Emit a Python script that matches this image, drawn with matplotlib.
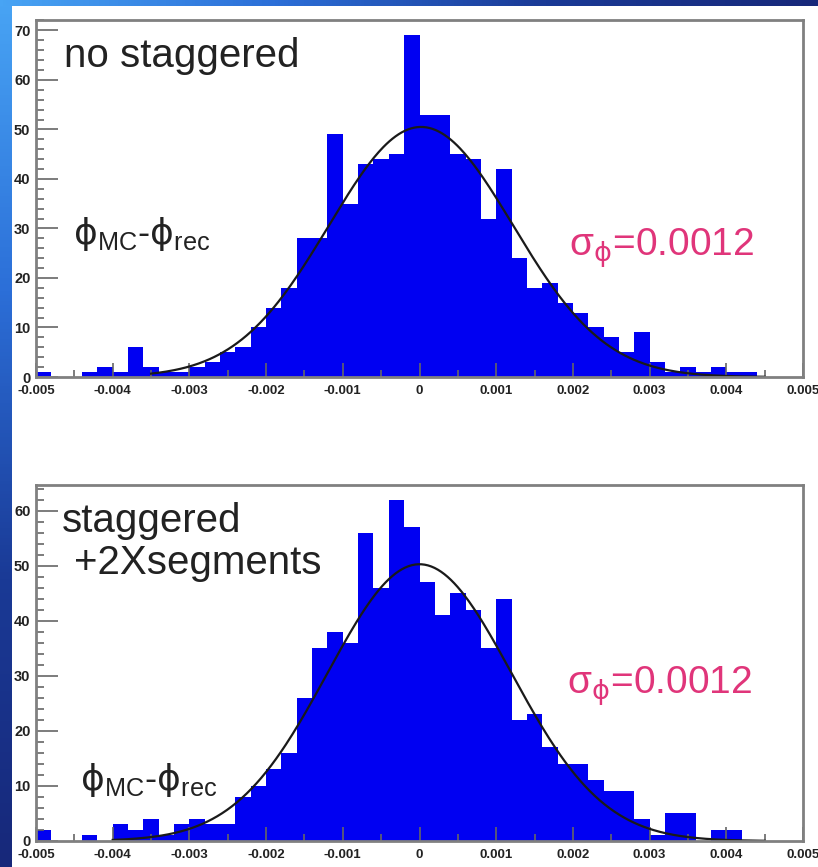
import numpy as np
import matplotlib.pyplot as plt
from matplotlib.colors import LinearSegmentedColormap

plt.rcParams['font.family'] = ['Liberation Sans', 'DejaVu Sans']
plt.rcParams['mathtext.fontset'] = 'custom'
plt.rcParams['mathtext.rm'] = 'DejaVu Sans'

# Histogram binning: 50 bins between -0.005 and 0.005
x_lo, x_hi, n_bins = -0.005, 0.005, 50

# Counts per bin
counts_nostag = [1, 0, 0, 1, 2, 1, 6, 2, 1, 1,
                 2, 3, 5, 6, 10, 14, 18, 28, 28, 49,
                 35, 43, 44, 45, 69, 53, 53, 45, 44, 32,
                 42, 24, 18, 19, 15, 13, 10, 8, 5, 9,
                 3, 1, 2, 1, 2, 1, 1, 0, 0, 0]
counts_stag = [2, 0, 0, 1, 0, 3, 2, 4, 1, 3,
               4, 3, 3, 8, 10, 13, 16, 26, 35, 38,
               36, 56, 46, 62, 57, 47, 41, 45, 42, 35,
               44, 22, 23, 17, 14, 14, 11, 9, 9, 4,
               1, 5, 5, 0, 2, 2, 0, 0, 0, 0]

# Gaussian fit parameters (amplitude, mean, sigma) and fit range
fit_nostag = (50.5, 0.00002, 0.0012)
fit_stag = (50.3, 0.0, 0.0012)
range_nostag = (-0.0035, 0.0045)
range_stag = (-0.0040, 0.0045)

x_ticks = [-0.005, -0.004, -0.003, -0.002, -0.001, 0, 0.001, 0.002, 0.003, 0.004, 0.005]
x_ticklabels = ['-0.005', '-0.004', '-0.003', '-0.002', '-0.001', '0',
                '0.001', '0.002', '0.003', '0.004', '0.005']

W, H = 818, 867
fig = plt.figure(figsize=(W / 100, H / 100), dpi=100)
fig.patch.set_facecolor('white')

# Slide background strips (blue gradients)
blues = LinearSegmentedColormap.from_list('slide', ['#48a4f4', '#2c6fd8', '#1a3a96', '#17287a'])
ax_left = fig.add_axes([0, 0, 12 / W, 1])
ax_left.imshow(np.linspace(0, 1, 256).reshape(-1, 1), aspect='auto', cmap=blues)
ax_left.axis('off')
ax_top = fig.add_axes([0, 1 - 6 / H, 1, 6 / H])
ax_top.imshow(np.linspace(0, 0.8, 256).reshape(1, -1), aspect='auto', cmap=blues)
ax_top.axis('off')

phi_label = r'$\mathrm{\phi}_{\mathregular{MC}}$-$\mathrm{\phi}_{\mathregular{rec}}$'
sigma_label = r'σ$_{\mathrm{\phi}}$=0.0012'


def draw_panel(rect, counts, fit, fit_range, ymax, labels, phi_pos, sigma_pos):
    ax = fig.add_axes(rect)
    edges = np.linspace(x_lo, x_hi, n_bins + 1)
    ax.stairs(counts, edges, fill=True, color='#0000f2', linewidth=0)

    amp, mu, sig = fit
    xs = np.linspace(fit_range[0], fit_range[1], 400)
    ax.plot(xs, amp * np.exp(-0.5 * ((xs - mu) / sig) ** 2), color='#1a1a1a', lw=1.6)

    ax.set_xlim(x_lo, x_hi)
    ax.set_ylim(0, ymax)
    ax.set_xticks(x_ticks)
    ax.set_xticklabels(x_ticklabels)
    ax.set_xticks(np.arange(-0.005, 0.00501, 0.0005), minor=True)
    ax.set_yticks(np.arange(0, ymax, 10))
    ax.set_yticks(np.arange(0, ymax, 2), minor=True)
    ax.tick_params(axis='both', which='both', direction='in', color='#666666', width=1.2)
    ax.tick_params(axis='y', which='major', length=16, pad=4)
    ax.tick_params(axis='y', which='minor', length=6)
    ax.tick_params(axis='x', which='major', length=10, pad=6)
    ax.tick_params(axis='x', which='minor', length=5)
    for lab in ax.get_xticklabels():
        lab.set_fontweight('bold')
        lab.set_fontsize(9.5)
        lab.set_color('#222222')
    for lab in ax.get_yticklabels():
        lab.set_fontweight('bold')
        lab.set_fontsize(10.5)
        lab.set_color('#222222')
    for sp in ax.spines.values():
        sp.set_color('#808080')
        sp.set_linewidth(2)

    for txt, x, y in labels:
        ax.text(x, y, txt, transform=ax.transAxes, fontsize=29, color='#222222',
                ha='left', va='center')
    ax.text(phi_pos[0], phi_pos[1], phi_label,
            transform=ax.transAxes, fontsize=26, color='#222222', ha='left', va='center')
    ax.text(sigma_pos[0], sigma_pos[1], sigma_label,
            transform=ax.transAxes, fontsize=28, color='#e0357a', ha='left', va='center')
    return ax


# Top panel: frame x 36..803, y 20..377 px
draw_panel([36 / W, 1 - 377 / H, 767 / W, 357 / H], counts_nostag, fit_nostag,
           range_nostag, 72.1,
           [('no staggered', 0.037, 0.9)],
           (0.048, 0.40), (0.695, 0.36))

# Bottom panel: frame x 36..803, y 485..841 px
draw_panel([36 / W, 1 - 841 / H, 767 / W, 356 / H], counts_stag, fit_stag,
           range_stag, 64.7,
           [('staggered', 0.034, 0.9), ('+2Xsegments', 0.05, 0.78)],
           (0.057, 0.17), (0.692, 0.435))

fig.savefig('out.png', dpi=100)
